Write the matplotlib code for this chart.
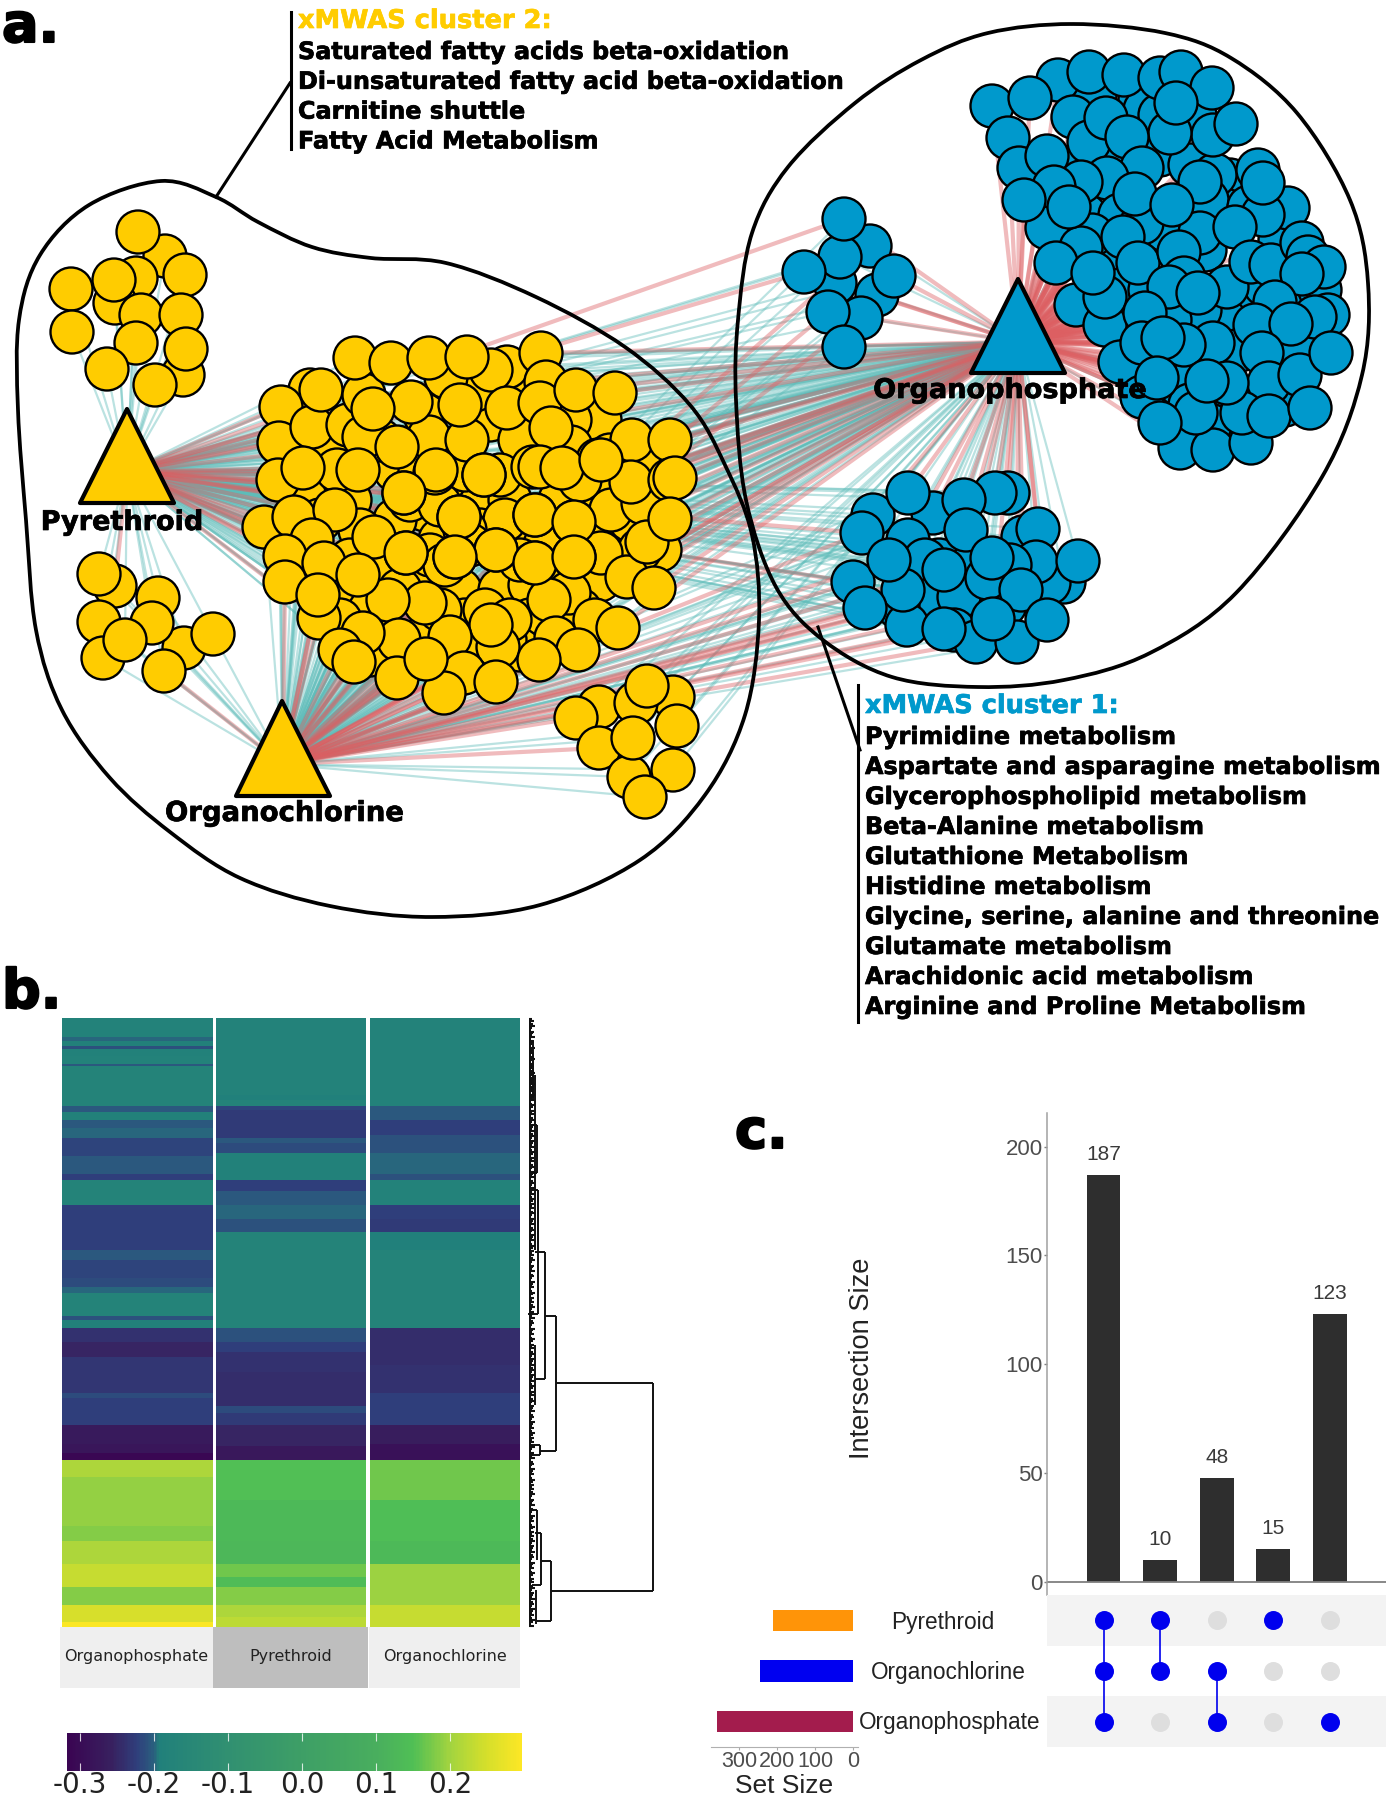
import itertools
import numpy as np
import matplotlib
matplotlib.use('Agg')
import matplotlib.pyplot as plt
import matplotlib.patheffects as pe
from matplotlib.collections import LineCollection
from matplotlib.colors import LinearSegmentedColormap, Normalize
from matplotlib.patches import Circle, Polygon, PathPatch, Rectangle
from matplotlib.path import Path

W, H = 1394, 1800
plt.rcParams['font.family'] = ['Liberation Sans', 'DejaVu Sans']

YELLOW = '#FFCC00'
BLUE = '#0099CC'
TEAL = '#5DBCB9'
RED = '#DC5F62'

# --- network: hubs and metabolite nodes ---
hub_py = [(127, 409), (80, 503), (174, 503)]
hub_oc = [(282, 701), (236, 796), (330, 796)]
hub_op = [(1018, 279), (971, 373), (1065, 373)]

yellow_top = [(165, 256), (136, 278), (115, 303), (138, 232), (185, 275), (71, 289), (114, 280),
              (141, 315), (181, 315), (72, 332), (183, 375), (136, 343), (186, 349), (107, 369), (155, 385)]
yellow_low = [(115, 586), (99, 574), (158, 598), (99, 622), (103, 658), (184, 648), (152, 623),
              (125, 640), (213, 634), (164, 671)]
yellow_right = [(599, 707), (576, 718), (673, 697), (636, 703), (647, 686), (599, 748), (629, 777),
                (673, 770), (633, 738), (677, 726), (645, 797)]
# dense middle of the big cluster, drawn first
yellow_fill = [(305, 497), (350, 500), (395, 470), (425, 510), (470, 500), (510, 500), (440, 540), (395, 520),
               (360, 530), (480, 530), (520, 530), (560, 500), (600, 490), (620, 520), (420, 570), (380, 575),
               (340, 590), (460, 590), (500, 590), (530, 585), (600, 580), (570, 620), (530, 620), (465, 620),
               (430, 630), (370, 610), (340, 620), (410, 660), (370, 655), (520, 650), (480, 655), (445, 660),
               (580, 610), (450, 395), (490, 420), (420, 470), (520, 440), (600, 420), (650, 470), (630, 520),
               (660, 550), (590, 540), (545, 545), (310, 390), (330, 455), (380, 440), (425, 415), (475, 390),
               (525, 385), (570, 420), (445, 480), (465, 470), (410, 500), (440, 505), (500, 475), (505, 520),
               (465, 530), (470, 545), (430, 555), (445, 565), (520, 560), (560, 575), (400, 590), (485, 610),
               (505, 640), (440, 610), (350, 560), (320, 520), (300, 545), (610, 455), (640, 550), (570, 465)]
yellow_main = [(507, 367), (446, 377), (491, 370), (429, 437), (467, 440), (507, 408), (571, 447),
               (598, 460), (435, 473), (484, 475), (533, 467), (404, 493), (459, 517), (535, 515),
               (574, 522), (601, 553), (455, 557), (535, 563), (574, 557), (627, 577), (654, 588),
               (496, 550), (406, 553), (611, 510), (643, 503), (647, 542), (569, 593), (595, 620),
               (510, 620), (498, 647), (491, 625), (450, 637), (425, 603), (388, 600), (399, 640),
               (363, 633), (319, 618), (549, 600), (556, 638), (578, 650), (618, 628), (539, 660),
               (397, 678), (464, 673), (444, 693), (496, 682), (426, 659), (340, 650), (354, 662),
               (281, 407), (279, 443), (312, 427), (321, 390), (348, 425), (364, 395), (364, 437),
               (397, 447), (411, 402), (460, 405), (355, 358), (391, 363), (429, 358), (467, 357),
               (541, 353), (546, 382), (540, 403), (576, 390), (615, 393), (551, 428), (632, 440),
               (670, 440), (580, 480), (631, 482), (670, 480), (675, 478), (670, 519), (278, 480),
               (337, 470), (303, 468), (358, 470), (373, 409), (540, 467), (562, 468), (601, 460),
               (264, 527), (294, 517), (335, 510), (374, 537), (312, 540), (285, 556), (324, 563),
               (285, 582), (318, 595), (358, 575), (436, 470), (484, 475), (404, 493), (459, 517),
               (535, 515), (574, 522), (406, 553), (496, 550), (455, 557), (535, 563), (574, 557)]
blue_small = [(870, 246), (835, 283), (877, 295), (861, 318), (840, 257), (844, 219), (804, 272),
              (894, 276), (828, 312), (844, 347)]
blue_fill = [(1095, 95), (1140, 100), (1145, 110), (1195, 115), (1110, 160), (1160, 155), (1190, 165), (1230, 180),
             (1225, 210), (1165, 230), (1105, 260), (1120, 290), (1150, 290), (1205, 250), (1240, 300), (1225, 320),
             (1285, 300), (1240, 350), (1295, 345), (1200, 310), (1170, 320), (1130, 325), (1140, 370), (1180, 385),
             (1235, 395), (1160, 115), (1075, 170), (1085, 215), (1215, 175), (1280, 240), (1290, 270), (1320, 290),
             (1265, 285), (1155, 360), (1190, 405), (1285, 405), (1210, 425)]
blue_big = [(1058, 80), (1089, 72), (1124, 75), (1160, 78), (1181, 72), (1212, 88), (1073, 117),
            (1089, 142), (1213, 135), (1170, 133), (1236, 124), (1176, 103), (1106, 118), (1127, 137),
            (992, 106), (1030, 98), (1008, 138), (1019, 168), (1047, 156), (1142, 168), (1107, 178),
            (1081, 182), (1207, 200), (1249, 207), (1200, 182), (1258, 170), (1288, 208), (1263, 215),
            (1263, 183), (1200, 233), (1235, 227), (1120, 215), (1142, 223), (1047, 228), (1092, 235),
            (1081, 248), (1123, 237), (1054, 187), (1024, 200), (1069, 207), (1135, 194), (1172, 205),
            (1056, 263), (1076, 305), (1105, 325), (1105, 297), (1093, 273), (1138, 263), (1179, 252),
            (1184, 278), (1169, 287), (1227, 287), (1198, 293), (1145, 313), (1251, 262), (1271, 265),
            (1302, 243), (1308, 257), (1324, 267), (1302, 274), (1275, 302), (1328, 315), (1315, 317),
            (1255, 325), (1291, 324), (1120, 362), (1142, 343), (1213, 343), (1184, 345), (1163, 338),
            (1262, 353), (1269, 383), (1300, 375), (1331, 353), (1142, 397), (1180, 448), (1213, 450),
            (1251, 443), (1196, 413), (1242, 413), (1227, 383), (1207, 381), (1157, 378), (1160, 423),
            (1269, 416), (1310, 408)]
blue_low = [(1008, 493), (995, 493), (873, 515), (933, 513), (964, 500), (908, 493), (862, 533),
            (1023, 537), (1038, 529), (1064, 582), (1049, 583), (1036, 562), (908, 540), (939, 560),
            (925, 560), (930, 600), (975, 560), (1005, 605), (975, 600), (1010, 565),
            (966, 530), (853, 582), (898, 607), (907, 625), (903, 590), (889, 560), (865, 608),
            (959, 597), (987, 578), (1021, 590), (954, 630), (976, 642), (1017, 642), (944, 629),
            (993, 619), (1047, 620), (944, 570), (992, 558), (1078, 561)]

# which edges of each hub are red (index into the node list), the rest are teal
py_main_red = [36, 49, 50, 51, 76, 78, 84, 85, 88, 89, 12, 30, 58, 63, 71]
oc_main_red = [47, 48, 42, 33, 36, 91, 92, 86, 29, 38, 45, 39, 27, 19]
op_main_red = [63, 64, 66, 67, 69, 70, 24, 25, 20, 72, 73, 75, 40, 19]
fill_red = [4, 11, 21, 30, 38, 41, 49, 57, 64]
op_big_red = [i for i in range(len(blue_big)) if i not in (33, 42, 43, 65, 74, 83)]
op_small_red = [5, 6, 7, 8, 1]
op_low_red = [0, 1, 2, 3, 4, 5, 7, 8, 12, 20, 27, 32, 34, 35]
oc_low_red = [21, 22, 23, 26, 28, 25, 30, 31, 33, 36, 6, 15]
oc_right_red = [1, 0, 5]
py_small_red = [5, 6]
py_low_red = [6, 21]
py_low_yellow_red = [0]
oc_low_yellow_red = [9]

# --- panel b: heatmap bands (break positions along the rows, value per band) ---
op_breaks = [35, 72, 80, 90, 95, 110, 125, 130, 208, 220, 235, 250, 270, 305, 340, 352, 402, 490, 510,
             545, 562, 575, 620, 628, 642, 670, 700, 770, 780, 833, 870, 888, 902, 935, 1030, 1060,
             1105, 1150, 1185, 1220, 1228]
op_values = [-0.185, -0.2, -0.19, -0.21, -0.19, -0.185, -0.205, -0.175, -0.205, -0.19, -0.205, -0.2,
             -0.22, -0.205, -0.225, -0.175, -0.225, -0.205, -0.22, -0.215, -0.2, -0.18, -0.21, -0.19,
             -0.24, -0.255, -0.235, -0.215, -0.225, -0.27, -0.28, -0.312, 0.21, 0.19, 0.18, 0.21,
             0.235, 0.18, 0.25, 0.295]
py_breaks = [35, 185, 195, 208, 215, 270, 280, 300, 352, 375, 402, 430, 455, 642, 670, 690, 730, 795,
             810, 833, 875, 902, 980, 1060, 1105, 1130, 1150, 1185, 1210, 1228]
py_values = [-0.185, -0.195, -0.18, -0.22, -0.23, -0.205, -0.215, -0.19, -0.225, -0.205, -0.2, -0.21,
             -0.175, -0.21, -0.225, -0.24, -0.245, -0.215, -0.23, -0.255, -0.275, 0.15, 0.13, 0.125,
             0.17, 0.14, 0.18, 0.21, 0.225]
oc_breaks = [35, 208, 235, 265, 300, 340, 352, 402, 430, 455, 490, 642, 715, 770, 833, 870, 902, 980,
             1060, 1105, 1185, 1228]
oc_values = [-0.185, -0.205, -0.225, -0.21, -0.2, -0.21, -0.185, -0.225, -0.23, -0.195, -0.175, -0.245,
             -0.24, -0.225, -0.265, -0.29, 0.17, 0.145, 0.13, 0.195, 0.235]
heat_names = ['Organophosphate', 'Pyrethroid', 'Organochlorine']
strip_colors = ['#EFEFEF', '#BEBEBE', '#EFEFEF']

cmap_values = [-0.3176, -0.26, -0.225, -0.205, -0.195, -0.1, 0.0, 0.1, 0.15, 0.2, 0.25, 0.2977]
cmap_colors = ['#3A0552', '#38205F', '#2F3F7C', '#2B5A7E', '#21807B', '#319071', '#3E9F66', '#49AE5E',
               '#50BF55', '#A2D43F', '#D5DF2B', '#FDE725']
cbar_ticks = [-0.3, -0.2, -0.1, 0.0, 0.1, 0.2]

# dendrogram branches (x, y0, y1) and (y, x0, x1)
dendro_v = [(653, 1383, 1591), (556, 1316, 1451), (545, 1252, 1379), (551, 1561, 1621), (538, 1190, 1314),
            (541, 1533, 1585), (537, 1510, 1560), (537, 1125, 1173), (535, 1075, 1250), (533, 1052, 1098),
            (535, 1345, 1405), (540, 1445, 1455), (538, 1190, 1240), (536, 1590, 1624), (533, 1040, 1100)]
dendro_h = [(1383, 556, 653), (1591, 551, 653), (1451, 540, 556), (1316, 545, 556), (1379, 535, 545),
            (1252, 535, 545), (1561, 541, 551), (1621, 537, 551), (1314, 528, 538), (1190, 533, 538),
            (1125, 533, 537), (1173, 533, 537), (1445, 530, 540), (1455, 530, 540), (1533, 535, 541),
            (1585, 532, 541), (1510, 533, 537)]
leaf_len = [3, 5, 2, 4, 6, 3, 2, 5, 4, 3, 6, 2, 4, 5, 3, 2, 6, 4, 3, 5, 2, 3, 6, 4, 2, 5]

# --- panel c: upset plot ---
intersections = [187, 10, 48, 15, 123]
sets = ['Pyrethroid', 'Organochlorine', 'Organophosphate']
set_sizes = [212, 245, 358]
set_colors = ['#FF9408', '#0000F0', '#A31C4D']
membership = [[0, 1, 2], [0, 1], [1, 2], [0], [2]]

cluster2 = ['Saturated fatty acids beta-oxidation', 'Di-unsaturated fatty acid beta-oxidation',
            'Carnitine shuttle', 'Fatty Acid Metabolism']
cluster1 = ['Pyrimidine metabolism', 'Aspartate and asparagine metabolism', 'Glycerophospholipid metabolism',
            'Beta-Alanine metabolism', 'Glutathione Metabolism', 'Histidine metabolism',
            'Glycine, serine, alanine and threonine', 'Glutamate metabolism', 'Arachidonic acid metabolism',
            'Arginine and Proline Metabolism']

yellow_outline = [(216, 197), (161, 181), (89, 205), (40, 255), (19, 320), (18, 410), (26, 520), (36, 630),
                  (62, 710), (110, 778), (170, 832), (240, 878), (330, 906), (432, 917), (540, 905), (640, 860),
                  (705, 795), (745, 715), (759, 620), (752, 535), (725, 465), (690, 405), (625, 347), (536, 297),
                  (446, 263), (371, 258), (312, 247), (258, 222)]
blue_outline = [(1072, 24), (1165, 33), (1231, 58), (1297, 113), (1350, 200), (1368, 283), (1362, 375),
                (1322, 477), (1236, 593), (1150, 653), (1064, 680), (978, 687), (892, 677), (823, 640),
                (776, 587), (746, 500), (736, 400), (738, 320), (752, 233), (788, 167), (855, 103),
                (921, 60), (988, 33)]


def px_axes(x0, y0, x1, y1, **kw):
    return fig.add_axes([x0 / W, 1 - y1 / H, (x1 - x0) / W, (y1 - y0) / H], **kw)


def smooth_closed(points):
    # closed Catmull-Rom through the points, as bezier pieces
    pts = np.array(points, float)
    n = len(pts)
    verts = [pts[0]]
    codes = [Path.MOVETO]
    for i in range(n):
        p0, p1, p2, p3 = pts[i - 1], pts[i], pts[(i + 1) % n], pts[(i + 2) % n]
        verts += [p1 + (p2 - p0) / 6, p2 - (p3 - p1) / 6, p2]
        codes += [Path.CURVE4] * 3
    return Path(verts, codes)


def edges(hub, nodes, red_idx):
    cx = sum(p[0] for p in hub) / 3
    cy = sum(p[1] for p in hub) / 3
    teal_segs = [[(cx, cy), n] for i, n in enumerate(nodes) if i not in red_idx]
    red_segs = [[(cx, cy), n] for i, n in enumerate(nodes) if i in red_idx]
    ax.add_collection(LineCollection(teal_segs, colors=TEAL, linewidths=1.6, alpha=0.42, zorder=1))
    ax.add_collection(LineCollection(red_segs, colors=RED, linewidths=3, alpha=0.42, zorder=1.1))


def nodes(points, color, z=3):
    for i, (x, y) in enumerate(points):
        ax.add_patch(Circle((x, y), 21.5, facecolor=color, edgecolor='black', linewidth=1.7, zorder=z + i * 0.001))


def heavy(x, y, s, size, color='black', ha='left', stroke=0.5, z=6):
    ax.text(x, y, s, fontsize=size, fontweight='bold', family='DejaVu Sans', color=color, ha=ha, va='center', zorder=z,
            path_effects=[pe.withStroke(linewidth=stroke, foreground=color)])


fig = plt.figure(figsize=(W / 100, H / 100), dpi=100)
ax = fig.add_axes([0, 0, 1, 1])
ax.set_xlim(0, W)
ax.set_ylim(H, 0)
ax.axis('off')

# edges first, they run under everything
edges(hub_py, yellow_top, [])
edges(hub_py, yellow_low, py_low_yellow_red)
edges(hub_py, yellow_main, py_main_red)
edges(hub_py, yellow_fill, fill_red)
edges(hub_py, blue_small, py_small_red)
edges(hub_py, blue_low, py_low_red)
edges(hub_oc, yellow_low, oc_low_yellow_red)
edges(hub_oc, yellow_main, oc_main_red)
edges(hub_oc, yellow_fill, fill_red)
edges(hub_oc, yellow_right, oc_right_red)
edges(hub_oc, blue_small, [0, 3, 8])
edges(hub_oc, blue_low, oc_low_red)
edges(hub_op, yellow_main, op_main_red)
edges(hub_op, yellow_fill, fill_red)
edges(hub_op, yellow_right, [])
edges(hub_op, blue_small, op_small_red)
edges(hub_op, blue_big, op_big_red)
edges(hub_op, blue_fill, list(range(len(blue_fill))))
edges(hub_op, blue_low, op_low_red)

for outline in (yellow_outline, blue_outline):
    ax.add_patch(PathPatch(smooth_closed(outline), fill=False, edgecolor='black', linewidth=2.7, zorder=2))

nodes(yellow_top, YELLOW)
nodes(yellow_low, YELLOW)
nodes(yellow_right, YELLOW)
nodes(yellow_fill, YELLOW, z=3.2)
nodes(yellow_main, YELLOW, z=3.4)
nodes(blue_small, BLUE)
nodes(blue_fill, BLUE, z=3.2)
nodes(blue_big, BLUE, z=3.4)
nodes(blue_low, BLUE)

for hub, color in ((hub_py, YELLOW), (hub_oc, YELLOW), (hub_op, BLUE)):
    ax.add_patch(Polygon(hub, closed=True, facecolor=color, edgecolor='black', linewidth=3, joinstyle='round', zorder=4))

heavy(122, 523, 'Pyrethroid', 19.5, ha='center')
heavy(284, 813, 'Organochlorine', 19.8, ha='center')
heavy(1010, 391, 'Organophosphate', 19.5, ha='center')

# callouts
ax.plot([291, 291], [12, 149], color='black', lw=2.2, zorder=2)
ax.plot([216, 290], [197, 83], color='black', lw=2.2, zorder=2)
ax.plot([858, 858], [685, 1022], color='black', lw=2.2, zorder=2)
ax.plot([818, 860], [627, 750], color='black', lw=2.2, zorder=2)

heavy(298, 21, 'xMWAS cluster 2:', 18.5, color=YELLOW)
for i, line in enumerate(cluster2):
    heavy(298, 52 + i * 29.8, line, 17.2)
heavy(865, 706, 'xMWAS cluster 1:', 18.5, color=BLUE)
for i, line in enumerate(cluster1):
    heavy(865, 737 + i * 30, line, 17.2)

for x, y, s in ((2, 42, 'a.'), (2, 1008, 'b.'), (735, 1148, 'c.')):
    ax.text(x, y, s, fontsize=39, fontweight='bold', family='DejaVu Sans', va='baseline', ha='left', zorder=6,
            path_effects=[pe.withStroke(linewidth=1.5, foreground='black')])

# --- heatmap ---
cmap = LinearSegmentedColormap.from_list(
    'heat', [((v - cmap_values[0]) / (cmap_values[-1] - cmap_values[0]), c) for v, c in zip(cmap_values, cmap_colors)])
norm = Normalize(cmap_values[0], cmap_values[-1])
col_spans = [(61.6, 212.5), (215.5, 366), (369.5, 519.5)]
strip_spans = [(60, 213), (213, 368), (369, 520)]
ax_hm = px_axes(60, 1018, 522, 1626.5)
ax_hm.set_xlim(60, 522)
ax_hm.set_ylim(1228, 35)
ax_hm.axis('off')
for span, breaks, vals in zip(col_spans, (op_breaks, py_breaks, oc_breaks), (op_values, py_values, oc_values)):
    ax_hm.pcolormesh(span, breaks, np.array(vals).reshape(-1, 1), cmap=cmap, norm=norm, shading='flat')

for span, name, color in zip(strip_spans, heat_names, strip_colors):
    ax.add_patch(Rectangle((span[0], 1627), span[1] - span[0], 61, facecolor=color, edgecolor='none', zorder=2))
    ax.text(sum(span) / 2, 1657, name, fontsize=11.5, family='DejaVu Sans', color='#222222', ha='center', va='center', zorder=3)

# dendrogram
den = [[(x, a), (x, b)] for x, a, b in dendro_v] + [[(a, y), (b, y)] for y, a, b in dendro_h]
ax.add_collection(LineCollection(den, colors='#111111', linewidths=1.4, zorder=2))
leaves = []
for y, ln in zip(np.arange(1019, 1627, 1.8), itertools.cycle(leaf_len)):
    leaves.append([(529, y), (529 + ln, y)])
ax.add_collection(LineCollection(leaves, colors='#111111', linewidths=1.5, zorder=2))

# colour bar
ax_cb = px_axes(67.3, 1733, 522, 1771)
grad = np.linspace(cmap_values[0], cmap_values[-1], 300)
ax_cb.pcolormesh(grad, [0, 1], grad[:-1].reshape(1, -1), cmap=cmap, norm=norm, shading='flat')
ax_cb.set_xlim(cmap_values[0], cmap_values[-1])
ax_cb.set_ylim(0, 1)
ax_cb.set_yticks([])
for s in ax_cb.spines.values():
    s.set_visible(False)
ax_cb.vlines(cbar_ticks, 0, 0.2, color='white', lw=0.8, alpha=0.8)
ax_cb.vlines(cbar_ticks, 0.8, 1, color='white', lw=0.8, alpha=0.8)
ax_cb.set_xticks(cbar_ticks)
ax_cb.set_xticklabels(['-0.3', '-0.2', '-0.1', '0.0', '0.1', '0.2'], family='DejaVu Sans', fontsize=20, color='#222222')
ax_cb.tick_params(axis='x', length=0, pad=0)

# --- upset bars ---
ax_bar = px_axes(1047, 1113, 1386, 1595)
ax_bar.bar(range(5), intersections, width=0.595, color='#2E2E2E')
for i, v in enumerate(intersections):
    ax_bar.text(i, v + 5, str(v), ha='center', va='bottom', fontsize=15, color='#3A3A3A')
ax_bar.set_xlim((1047 - 1103.5) / 56.6, (1386 - 1103.5) / 56.6)
ax_bar.set_ylim(-(1595 - 1582) / 2.177, (1582 - 1113) / 2.177)
ax_bar.set_xticks([])
ax_bar.set_yticks([0, 50, 100, 150, 200])
ax_bar.tick_params(axis='y', labelsize=16, labelcolor='#4D4D4D', color='#7F7F7F', length=2, width=1, pad=1)
ax_bar.patch.set_alpha(0)
ax_bar.spines[['top', 'right', 'bottom']].set_visible(False)
ax_bar.spines['left'].set_color('#A0A0A0')
ax_bar.spines['left'].set_linewidth(1.1)
ax_bar.axhline(0, color='#7F7F7F', lw=1.3)
ax.text(862, 1358, 'Intersection Size', rotation=90, fontsize=19.6, color='#222222', ha='center', va='center')

# --- upset matrix ---
ax_mat = px_axes(1047, 1595, 1386, 1747)
ax_mat.set_xlim((1047 - 1103.5) / 56.6, (1386 - 1103.5) / 56.6)
ax_mat.set_ylim(2.5, -0.5)
ax_mat.axis('off')
for r in (0, 2):
    ax_mat.axhspan(r - 0.5, r + 0.5, color='#F3F3F3', lw=0)
for c, members in enumerate(membership):
    for r in range(3):
        ax_mat.scatter(c, r, s=187, color='#0000EE' if r in members else '#DEDEDE', linewidths=0, zorder=3)
    if len(members) > 1:
        ax_mat.plot([c, c], [min(members), max(members)], color='#0000EE', lw=1.2, zorder=2)

for r, name in enumerate(sets):
    ax.text([943, 948, 950][r], [1622, 1672.5, 1723][r], name, fontsize=16.3, color='#222222', ha='center', va='center')

# --- set size bars ---
ax_set = px_axes(711, 1595, 858, 1747)
ax_set.barh(range(3), set_sizes, height=0.42, color=set_colors)
ax_set.set_xlim((853 - 711) / 0.379, (853 - 858) / 0.379)
ax_set.set_ylim(2.5, -0.5)
ax_set.set_yticks([])
ax_set.set_xticks([0, 100, 200, 300])
ax_set.tick_params(axis='x', labelsize=15.5, labelcolor='#4D4D4D', color='#AAAAAA', length=2, pad=1)
ax_set.patch.set_alpha(0)
ax_set.spines[['top', 'right', 'left']].set_visible(False)
ax_set.spines['bottom'].set_color('#B0B0B0')
ax.text(784, 1786, 'Set Size', fontsize=19, color='#222222', ha='center', va='center')

fig.savefig('out.png', dpi=100)
